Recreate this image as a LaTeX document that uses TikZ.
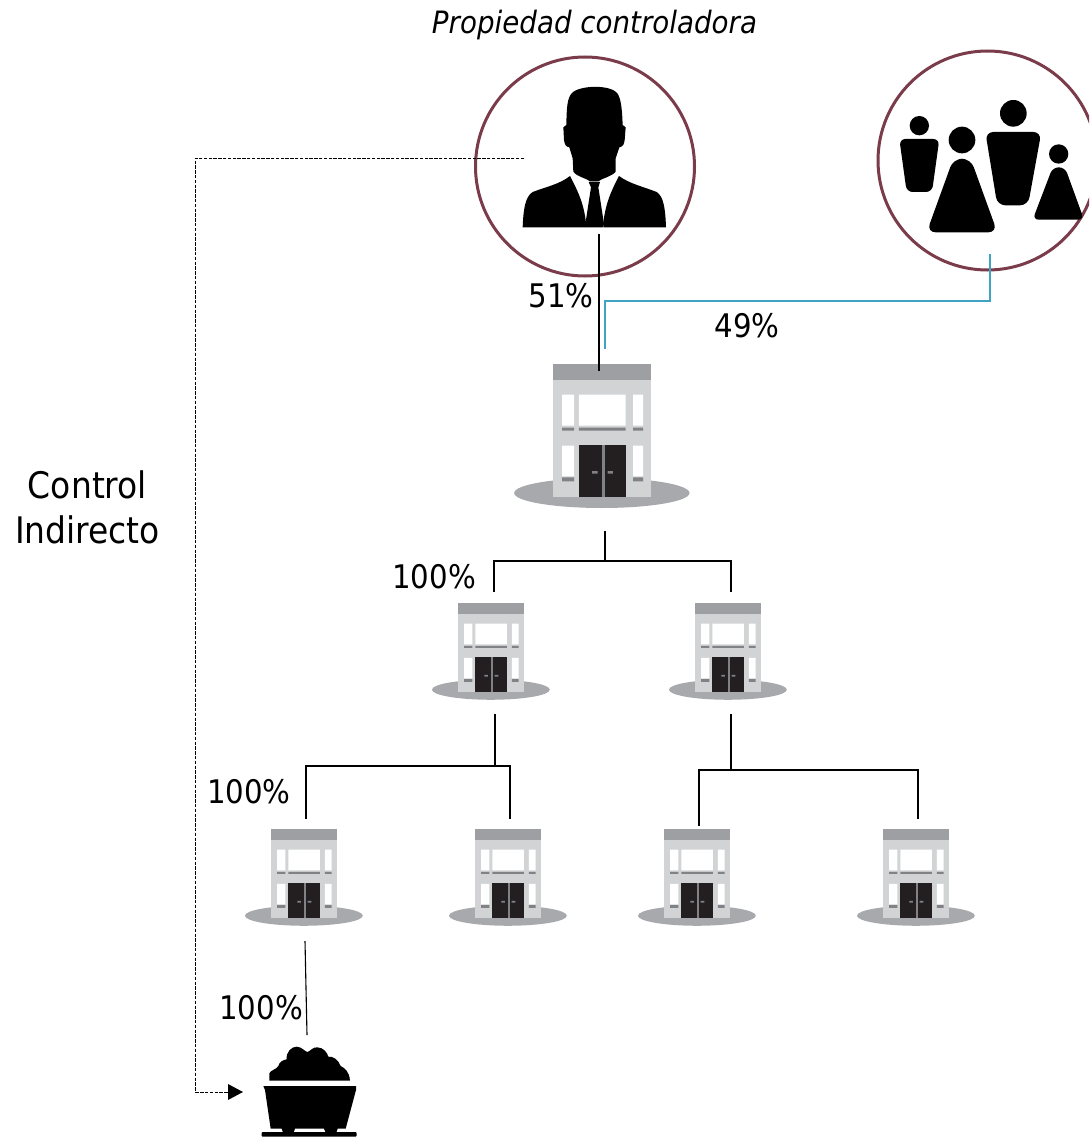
\documentclass[tikz,border=0pt]{standalone}
\usepackage{fontspec}
\setmainfont[FakeStretch=0.9]{DejaVu Sans}
\usetikzlibrary{arrows.meta}
\definecolor{ringc}{HTML}{7A3B4A}
\definecolor{tealc}{HTML}{3FA3C4}
\definecolor{shadowc}{HTML}{A7A9AC}
\definecolor{wallc}{HTML}{D1D3D4}
\definecolor{roofc}{HTML}{9D9FA2}
\definecolor{sillc}{HTML}{808285}
\definecolor{doorc}{HTML}{231F20}
\tikzset{
  x=1pt,y=-1pt,
  ring/.style={draw=ringc,line width=3pt,fill=none},
  link/.style={draw=black,line width=1.1pt},
  sharelink/.style={draw=tealc,line width=1.1pt},
  ctrl/.style={draw=black,line width=1pt,dash pattern=on 3.4pt off 1.4pt},
  ink/.style={fill=black,draw=none},
  pct/.style={font=\fontsize{32.5}{35}\selectfont,inner sep=0pt,anchor=center},
  building/.pic={
    \begin{scope}[shift={(-291.5,-73)}]
    \fill[shadowc] (291,460) ellipse [x radius=263,y radius=45];
    \fill[wallc] (145,120) rectangle (438,472);
    \fill[roofc] (145,73) rectangle (438,120);
    \fill[white] (172,165) rectangle (208,258) (222,165) rectangle (362,258) (385,165) rectangle (415,258)
                 (172,318) rectangle (208,410) (385,318) rectangle (415,410);
    \fill[sillc] (172,264) rectangle (208,273) (222,264) rectangle (362,273) (385,264) rectangle (415,273)
                 (172,413) rectangle (208,425) (385,413) rectangle (415,425);
    \fill[doorc] (222,315) rectangle (362,472);
    \fill[sillc] (292,315) rectangle (300,472);
    \fill[sillc] (262,394) rectangle (278,402) (308,394) rectangle (324,402);
    \end{scope}
  }
}
\begin{document}
\begin{tikzpicture}
\useasboundingbox (0,0) rectangle (1089,1137);
\clip (0,0) rectangle (1089,1137);

% rings
\node[circle,ring,minimum size=219pt,inner sep=0pt] (owner) at (585,166.5) {};
\node[circle,ring,minimum size=219pt,inner sep=0pt] (public) at (987.5,160.5) {};

% person
\begin{scope}[shift={(470,40)},scale=1/3]
  \fill[ink] (310,395) -- (308,355) -- (298,322) .. controls (286,320) and (284,312) .. (282,300)
     -- (280,262) -- (289,255) .. controls (290,200) and (292,175) .. (305,160)
     .. controls (325,136) and (420,132) .. (442,160)
     .. controls (452,175) and (456,200) .. (458,255) -- (467,262) -- (464,300)
     .. controls (462,312) and (460,320) .. (448,322) -- (437,355) -- (437,395)
     .. controls (425,410) and (395,415) .. (385,424) -- (360,424)
     .. controls (350,415) and (320,410) .. (310,395) -- cycle;
  \fill[ink] (356,426) -- (390,426) -- (385,442) -- (402,552) -- (398,562) -- (348,562) -- (346,552) -- (363,442) -- cycle;
  \fill[ink] (158,562) .. controls (160,510) and (165,470) .. (188,456)
     .. controls (230,440) and (270,432) .. (300,408)
     .. controls (322,450) and (342,490) .. (348,550) -- (348,562) -- cycle;
  \fill[ink] (588,562) .. controls (586,510) and (582,470) .. (560,456)
     .. controls (520,440) and (480,432) .. (447,408)
     .. controls (425,450) and (406,490) .. (400,550) -- (400,562) -- cycle;
\end{scope}

% people
\begin{scope}[shift={(870,40)},scale=1/3]
  \fill[ink] (148,257) circle [radius=29];
  \fill[ink,rounded corners=6pt] (88,297) -- (208,297) -- (186,456) -- (110,456) -- cycle;
  \fill[ink] (276,300) circle [radius=40];
  \fill[ink,rounded corners=9pt] (250,356) -- (302,356) -- (382,577) -- (170,577) -- cycle;
  \fill[ink] (430,220) circle [radius=40];
  \fill[ink,rounded corners=8pt] (346,276) -- (514,276) -- (474,496) -- (382,496) -- cycle;
  \fill[ink] (566,342) circle [radius=29];
  \fill[ink,rounded corners=6pt] (548,382) -- (585,382) -- (642,539) -- (488,539) -- cycle;
\end{scope}

% buildings
\path (602,364) pic[scale=1/3] {building};
\foreach \cx/\ty in {491/603,728/603,304/829,508/829,697/829,916/829}
  \path (\cx,\ty) pic[scale=0.224] {building};

% cart
\begin{scope}[shift={(180,1030)},scale=1/3]
  \fill[ink] (268,152) -- (268,130) .. controls (272,120) and (290,118) .. (295,108)
     .. controls (298,95) and (310,90) .. (320,88)
     .. controls (318,65) and (335,50) .. (350,50)
     .. controls (365,50) and (375,65) .. (382,66)
     .. controls (390,65) and (398,50) .. (412,52)
     .. controls (430,52) and (442,68) .. (445,80)
     .. controls (460,78) and (475,90) .. (482,108)
     .. controls (495,115) and (508,125) .. (510,152) -- cycle;
  \fill[ink] (250,168) -- (528,168) -- (528,180) -- (497,296) -- (473,296) -- (468,310) -- (438,310) -- (432,296) -- (345,296) -- (340,310) -- (310,310) -- (305,296) -- (272,296) -- (255,180) -- cycle;
  \fill[ink,rounded corners=1pt] (245,306) -- (530,306) -- (530,320) -- (245,320) -- cycle;
\end{scope}

% connector ends
\coordinate (ownerout) at (599,234);
\coordinate (hqin) at (599,371);
\coordinate (publicout) at (990,254);
\coordinate (hqshare) at (605,349);
\coordinate (hqout) at (605,531);
\coordinate (hqbus) at (605,561);
\coordinate (subAin) at (494,592);
\coordinate (subBin) at (731,592);
\coordinate (subAout) at (495,714);
\coordinate (subAbus) at (495,766);
\coordinate (subBout) at (731,714);
\coordinate (subBbus) at (731,770);
\coordinate (opAin) at (306,819);
\coordinate (opBin) at (510,819);
\coordinate (opCin) at (699,826);
\coordinate (opDin) at (918,819);
\coordinate (opAout) at (305,941);
\coordinate (minein) at (307,1035);
\coordinate (ctrlstart) at (524,158);
\coordinate (ctrlcornerA) at (195.5,158);
\coordinate (ctrlcornerB) at (195.5,1092);
\coordinate (ctrlend) at (228,1092);
\coordinate (minearrow) at (243,1092);

\draw[link] (ownerout) -- (hqin);
\draw[sharelink] (publicout) -- (publicout |- 0,301) -- (hqshare |- 0,301) -- (hqshare);
\draw[link] (hqout) -- (hqbus);
\draw[link] (subAin) -- (subAin |- hqbus) -- (subBin |- hqbus) -- (subBin);
\draw[link] (subAout) -- (subAbus);
\draw[link] (opAin) -- (opAin |- subAbus) -- (opBin |- subAbus) -- (opBin);
\draw[link] (subBout) -- (subBbus);
\draw[link] (opCin) -- (opCin |- subBbus) -- (opDin |- subBbus) -- (opDin);
\draw[link] (opAout) -- (minein);
\draw[ctrl] (ctrlstart) -- (ctrlcornerA) -- (ctrlcornerB) -- (ctrlend);
\fill[ink] (minearrow) -- (228,1084) -- (228,1100) -- cycle;

% labels
\node[pct,font=\fontsize{30.8}{33}\selectfont\itshape] (title) at (594.5,25) {Propiedad controladora};
\node[pct] (l51) at (561,296) {51\%};
\node[pct] (l49) at (747,326) {49\%};
\node[pct] (l100a) at (434,577) {100\%};
\node[pct] (l100b) at (249,792) {100\%};
\node[pct] (l100c) at (261,1008) {100\%};
\node[font=\fontsize{36.6}{45}\selectfont,align=center,inner sep=0pt] (ctl) at (87.5,507) {Control\\Indirecto};
\end{tikzpicture}
\end{document}
